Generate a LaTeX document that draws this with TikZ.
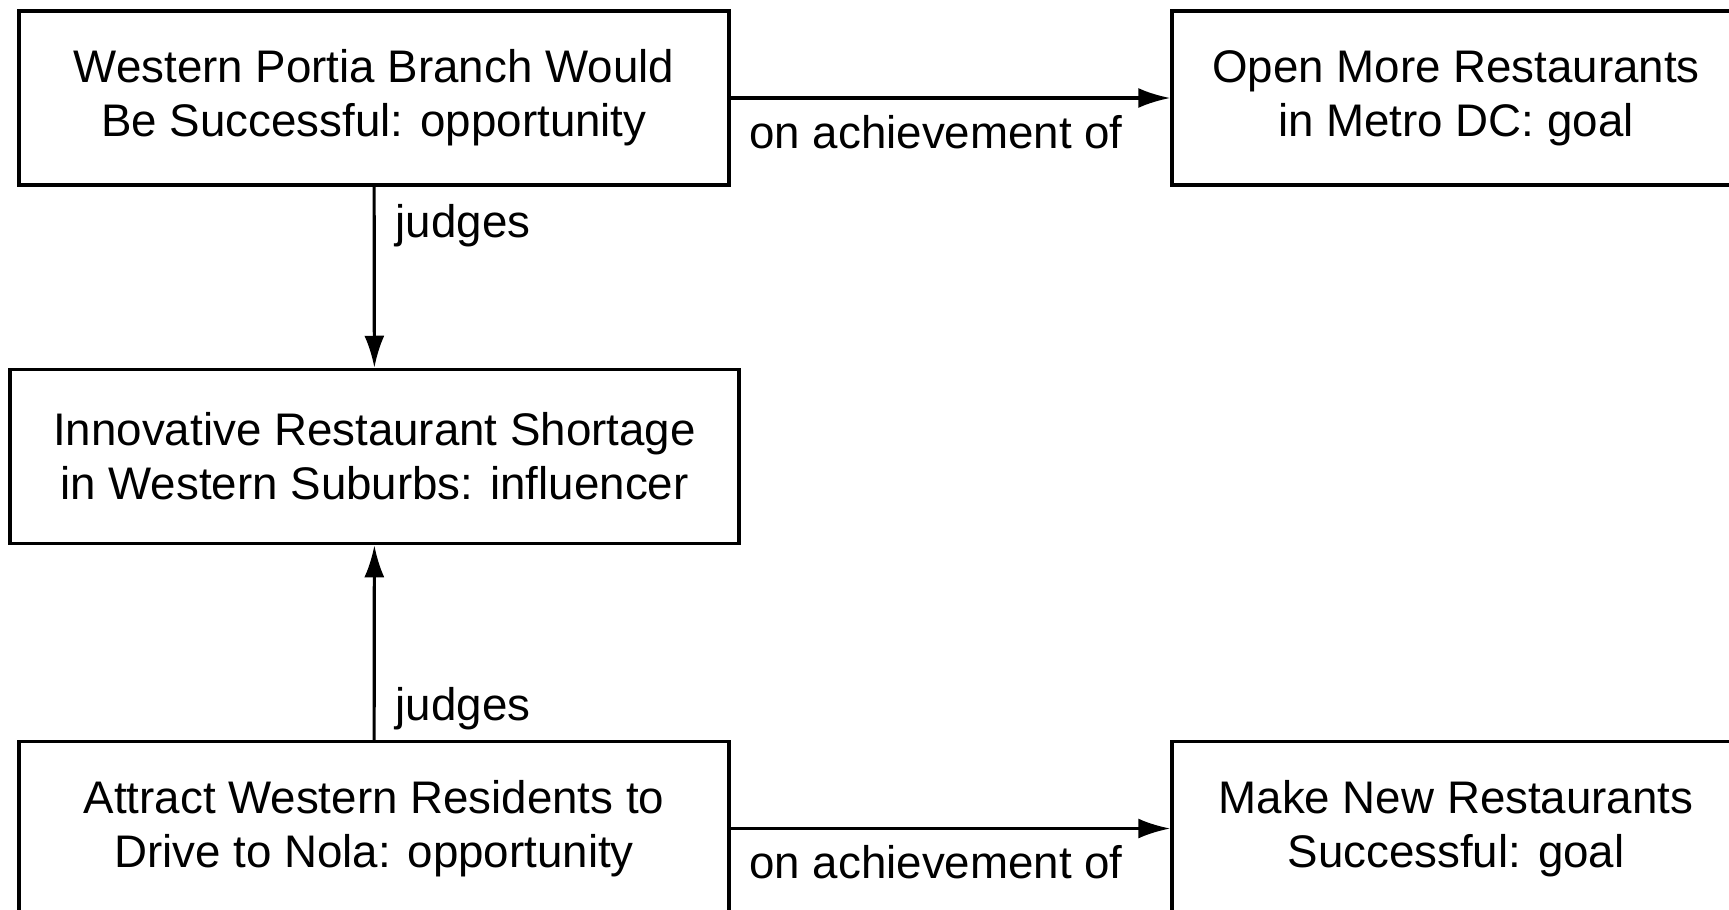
\documentclass[tikz,border=0pt]{standalone}
\usepackage{fontspec}
\setmainfont{Liberation Sans}
\usetikzlibrary{arrows.meta}

\tikzset{
  box/.style={draw,line width=1pt,align=center,minimum height=1.74cm,inner sep=0pt,
    font=\fontsize{13}{15.4}\selectfont},
  link/.style={-{Latex[length=3.2mm,width=2mm]},line width=0.9pt},
  lbl/.style={font=\fontsize{13}{15.4}\selectfont,inner sep=0pt}
}

\begin{document}
\begin{tikzpicture}
        \useasboundingbox (0,0) rectangle (17.29,-9.09);
        \node[box,minimum width=7.10cm] (wp) at (3.74,-0.98) {Western Portia Branch Would\\Be Successful: opportunity};
        \node[box,minimum width=5.68cm] (open) at (14.56,-0.98) {Open More Restaurants\\in Metro DC: goal};
        \node[box,minimum width=7.29cm] (innov) at (3.745,-4.565) {Innovative Restaurant Shortage\\in Western Suburbs: influencer};
        \node[box,minimum width=7.10cm] (attract) at (3.74,-8.285) {Attract Western Residents to\\Drive to Nola: opportunity};
        \node[box,minimum width=5.68cm] (make) at (14.56,-8.285) {Make New Restaurants\\Successful: goal};
        \draw[link] (wp) -- (open) node[lbl,pos=0,anchor=north west,xshift=0.17cm,yshift=-0.156cm] (ach1) {on achievement of};
        \draw[link] (attract) -- (make) node[lbl,pos=0,anchor=north west,xshift=0.17cm,yshift=-0.156cm] (ach2) {on achievement of};
        \draw[link] (wp) -- (innov) node[lbl,pos=0,anchor=north west,xshift=0.2cm,yshift=-0.156cm] (jdg1) {judges};
        \draw[link] (attract) -- (innov) node[lbl,pos=0,anchor=south west,xshift=0.2cm,yshift=0.08cm] (jdg2) {judges};
    \end{tikzpicture}
\end{document}
